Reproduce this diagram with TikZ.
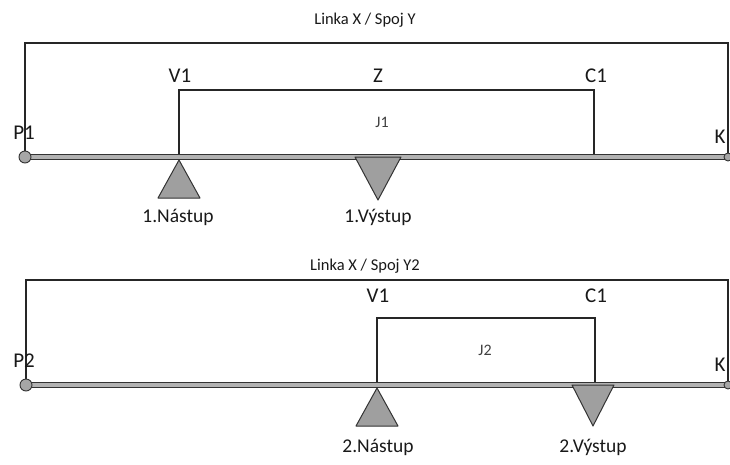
\documentclass[tikz,border=0pt]{standalone}
\usepackage{fontspec}
\setmainfont{Carlito}
\begin{document}
\begin{tikzpicture}[x=1pt,y=-1pt,
  frame/.style={draw=black!85, line width=1.2pt},
  bar/.style={draw=black!80, line width=1.3pt, double=gray!60, double distance=3.5pt},
  tri/.style={draw=black!80, fill=gray!75, line width=1pt, line join=round},
  dot/.style={circle, draw=black!80, fill=gray!70, line width=0.9pt, minimum size=12pt, inner sep=0pt},
  lbl/.style={font=\fontsize{19.5}{22}\selectfont, text=black!90, inner sep=0pt},
  big/.style={font=\fontsize{21}{24}\selectfont, text=black!90, inner sep=0pt},
  ttl/.style={font=\fontsize{16.5}{19}\selectfont, text=black!90, inner sep=0pt},
  jl/.style={font=\fontsize{16}{18}\selectfont, text=black!75, inner sep=0pt}]
\useasboundingbox (0,0) rectangle (730,464);
\fill[white] (0,0) rectangle (730,464);
% ---------- top diagram ----------
\coordinate (P1) at (25,157);
\coordinate (K1) at (728,157);
\coordinate (TL1) at (25,43);
\coordinate (TR1) at (728,43);
\coordinate (A1) at (179,157);
\coordinate (B1) at (179,90);
\coordinate (E1) at (594,90);
\coordinate (D1) at (594,157);
\coordinate (X1) at (378,157);
\draw[frame] (P1) -- (TL1) -- (TR1) -- (K1);
\draw[frame] (A1) -- (B1) -- (E1) -- (D1);
\draw[bar] (P1) -- (K1);
\node[dot] (p1dot) at (P1) {};
\node[dot, minimum size=8pt] (k1dot) at (K1) {};
\draw[tri] (A1) ++(0,3) -- ++(21,38) -- ++(-42,0) -- cycle;
\draw[tri] (X1) ++(-23,0) -- ++(46,0) -- ++(-23,43) -- cycle;
\node[ttl] (t1) at (365,20) {Linka X / Spoj Y};
\node[big] (v1) at (180,76) {V1};
\node[big] (z1) at (378,76) {Z};
\node[big] (c1) at (596,76) {C1};
\node[jl] (j1) at (382,122) {J1};
\node[big] (pl1) at (24,133) {P1};
\node[big] (kl1) at (720,137) {K};
\node[lbl] (n1) at (178,217) {1.Nástup};
\node[lbl] (vy1) at (378,217) {1.Výstup};
% ---------- bottom diagram ----------
\coordinate (P2) at (26,385);
\coordinate (K2) at (728,385);
\coordinate (TL2) at (26,280);
\coordinate (TR2) at (728,280);
\coordinate (A2) at (377,385);
\coordinate (B2) at (377,318);
\coordinate (E2) at (595,318);
\coordinate (D2) at (595,385);
\draw[frame] (P2) -- (TL2) -- (TR2) -- (K2);
\draw[frame] (A2) -- (B2) -- (E2) -- (D2);
\draw[bar] (P2) -- (K2);
\node[dot] (p2dot) at (P2) {};
\node[dot, minimum size=8pt] (k2dot) at (K2) {};
\draw[tri] (A2) ++(0,3) -- ++(21,38) -- ++(-42,0) -- cycle;
\draw[tri] (D2) ++(-2,0) ++(-21,0) -- ++(42,0) -- ++(-21,41) -- cycle;
\node[ttl] (t2) at (365,266) {Linka X / Spoj Y2};
\node[big] (v2) at (378,296) {V1};
\node[big] (c2) at (596,296) {C1};
\node[jl] (j2) at (485,350) {J2};
\node[big] (pl2) at (24,361) {P2};
\node[big] (kl2) at (720,365) {K};
\node[lbl] (n2) at (378,447) {2.Nástup};
\node[lbl] (vy2) at (593,447) {2.Výstup};
\end{tikzpicture}
\end{document}
